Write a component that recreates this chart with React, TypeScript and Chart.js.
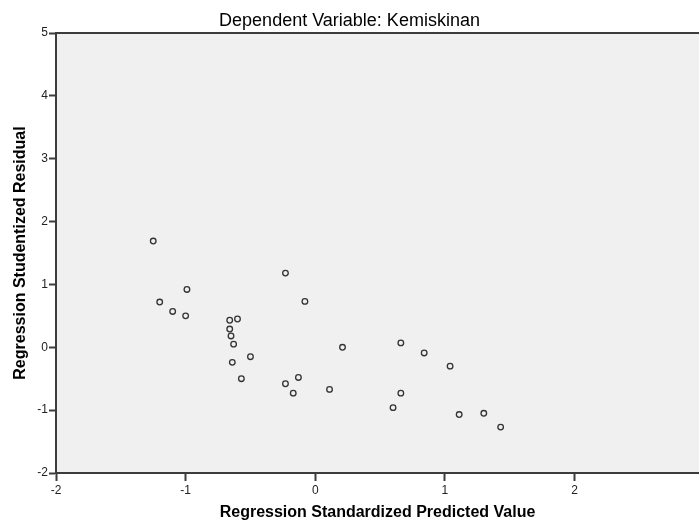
import React, { useEffect, useRef } from "react";
import { Chart, registerables } from "chart.js";

Chart.register(...registerables);

const chartTitle = "Dependent Variable: Kemiskinan";
const xAxisTitle = "Regression Standardized Predicted Value";
const yAxisTitle = "Regression Studentized Residual";

const predictedValues = [
  -1.25, -1.2, -1.1, -0.99, -1.0, -0.66, -0.6, -0.66, -0.65, -0.63, -0.5, -0.64, -0.57,
  -0.23, -0.08, 0.21, -0.13, -0.23, -0.17, 0.11, 0.66, 0.84, 1.04, 0.66, 0.6, 1.11, 1.3, 1.43,
];
const studentizedResiduals = [
  1.69, 0.72, 0.57, 0.92, 0.5, 0.43, 0.45, 0.29, 0.18, 0.05, -0.15, -0.24, -0.5,
  1.18, 0.73, 0.0, -0.48, -0.58, -0.73, -0.67, 0.07, -0.09, -0.3, -0.73, -0.96, -1.07, -1.05, -1.27,
];

const xMin = -2;
const xMax = 2.96;
const yMin = -2;
const yMax = 5;

const FONT = "'Liberation Sans', Arial, sans-serif";
const AXIS = "#3c3c3c";

const framePlugin = {
  id: "frame",
  beforeDraw(chart: any) {
    const { ctx, chartArea } = chart;
    ctx.save();
    ctx.fillStyle = "#f0f0f0";
    ctx.fillRect(chartArea.left, chartArea.top, chartArea.right - chartArea.left, chartArea.bottom - chartArea.top);
    ctx.restore();
  },
  afterDraw(chart: any) {
    const { ctx, chartArea } = chart;
    ctx.save();
    ctx.strokeStyle = AXIS;
    ctx.lineWidth = 2;
    ctx.beginPath();
    ctx.moveTo(chartArea.left, chartArea.top);
    ctx.lineTo(chartArea.right, chartArea.top);
    ctx.stroke();
    ctx.restore();
  },
};

export default function App() {
  const ref = useRef<HTMLCanvasElement | null>(null);

  useEffect(() => {
    if (!ref.current) return;
    const data = predictedValues.map((x, i) => ({ x, y: studentizedResiduals[i] }));
    const chart = new Chart(ref.current, {
      type: "scatter",
      data: {
        datasets: [
          {
            data,
            pointRadius: 2.8,
            pointBorderWidth: 1.3,
            pointBorderColor: "#333333",
            pointBackgroundColor: "rgba(0,0,0,0)",
          },
        ],
      },
      options: {
        responsive: false,
        animation: false,
        devicePixelRatio: 1,
        layout: { padding: 0, autoPadding: false },
        plugins: {
          legend: { display: false },
          tooltip: { enabled: false },
          title: {
            display: true,
            text: chartTitle,
            color: "#000",
            font: { family: FONT, size: 18, weight: "normal" },
            padding: { top: 10.5, bottom: 0.9 },
          },
        },
        scales: {
          x: {
            type: "linear",
            min: xMin,
            max: xMax,
            ticks: {
              stepSize: 1,
              color: "#222",
              font: { family: FONT, size: 12 },
              padding: 2,
              maxRotation: 0,
            },
            afterBuildTicks: (scale: any) => {
              scale.ticks = scale.ticks.filter((t: any) => Math.abs(t.value - Math.round(t.value)) < 1e-6);
            },
            afterFit: (scale: any) => {
              scale.height = 51;
            },
            grid: {
              display: true,
              drawOnChartArea: false,
              drawTicks: true,
              tickLength: 8,
              tickColor: AXIS,
              tickWidth: 2,
              color: AXIS,
            },
            border: { display: true, color: AXIS, width: 2 },
            title: {
              display: true,
              text: xAxisTitle,
              color: "#000",
              font: { family: FONT, size: 16, weight: "bold" },
              padding: { top: 0, bottom: 2 },
            },
          },
          y: {
            type: "linear",
            min: yMin,
            max: yMax,
            ticks: {
              stepSize: 1,
              color: "#222",
              font: { family: FONT, size: 12 },
              padding: 1,
            },
            afterFit: (scale: any) => {
              scale.width = 56;
            },
            grid: {
              display: true,
              drawOnChartArea: false,
              drawTicks: true,
              tickLength: 7,
              tickColor: AXIS,
              tickWidth: 2,
              color: AXIS,
            },
            border: { display: true, color: AXIS, width: 2 },
            title: {
              display: true,
              text: yAxisTitle,
              color: "#000",
              font: { family: FONT, size: 16, weight: "bold" },
              padding: { top: 10.5, bottom: 0 },
            },
          },
        },
      },
      plugins: [framePlugin],
    } as any);
    return () => chart.destroy();
  }, []);

  return (
    <div style={{ position: "fixed", left: 0, top: 0, width: 699, height: 524, background: "#fff" }}>
      <canvas ref={ref} width={699} height={524} style={{ display: "block", width: 699, height: 524 }} />
    </div>
  );
}
